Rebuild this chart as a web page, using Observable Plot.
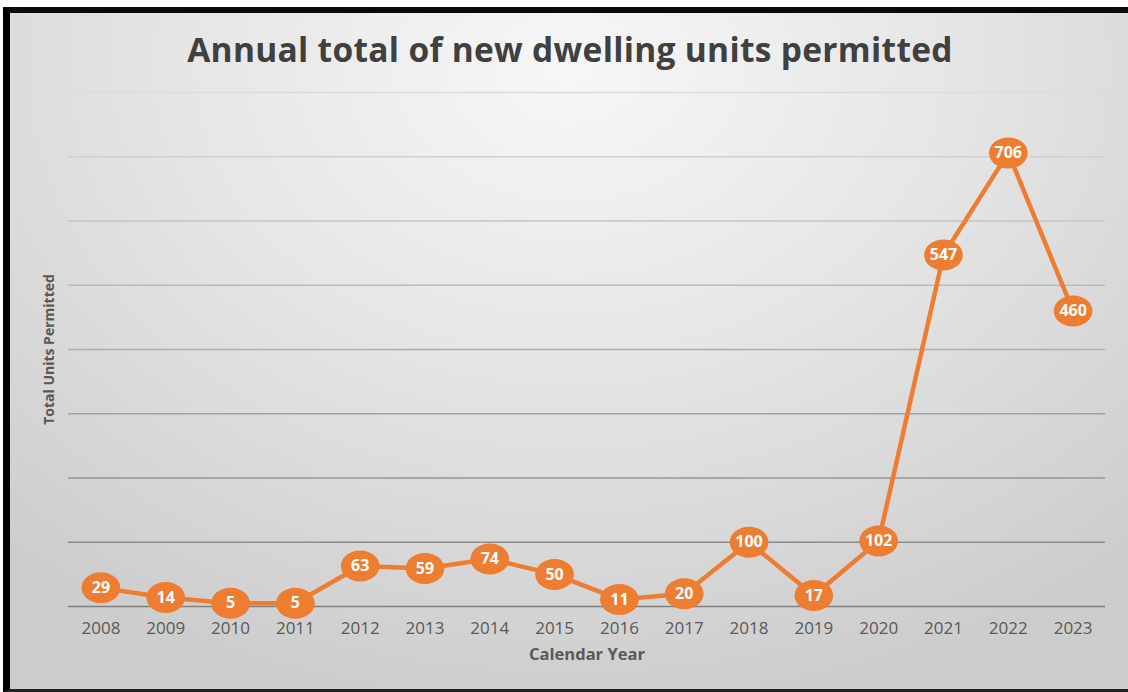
<!DOCTYPE html>
<html>
<head>
<meta charset="utf-8">
<script src="https://cdn.jsdelivr.net/npm/d3@7"></script>
<script src="https://cdn.jsdelivr.net/npm/@observablehq/plot@0.6"></script>
<style>
  html, body { margin: 0; padding: 0; background: #ffffff; width: 1128px; height: 692px; overflow: hidden; }
  #frame {
    position: absolute; left: 3px; top: 7px; width: 1125px; height: 685px;
    box-sizing: border-box;
    border-left: 7px solid #000; border-top: 6px solid #0a0a0a; border-bottom: 3px solid #222;
    background: radial-gradient(ellipse 75% 95% at 50% 8%, #f7f7f7 0%, #e6e6e6 45%, #cdcdcd 100%);
  }
  #title {
    position: absolute; left: 0; top: 26px; width: 1140px; text-align: center;
    font-family: "Open Sans", sans-serif; font-weight: 700; font-size: 33.5px; color: #404040;
    letter-spacing: 0.3px;
  }
  #chart { position: absolute; left: 0; top: 0; }
</style>
</head>
<body>
<div id="frame"></div>
<div id="title">Annual total of new dwelling units permitted</div>
<div id="chart"></div>
<script>
const years = ["2008","2009","2010","2011","2012","2013","2014","2015","2016","2017","2018","2019","2020","2021","2022","2023"];
const units = [29, 14, 5, 5, 63, 59, 74, 50, 11, 20, 100, 17, 102, 547, 706, 460];
const gridValues = [100, 200, 300, 400, 500, 600, 700, 800];

const data = years.map((y, i) => ({year: y, value: units[i]}));

// ellipse symbol for data-label markers
const ellipse = {
  draw(ctx, size) {
    const r = Math.sqrt(size / Math.PI);
    const rx = r * 1.25, ry = r, k = 0.5523;
    ctx.moveTo(rx, 0);
    ctx.bezierCurveTo(rx, ry * k, rx * k, ry, 0, ry);
    ctx.bezierCurveTo(-rx * k, ry, -rx, ry * k, -rx, 0);
    ctx.bezierCurveTo(-rx, -ry * k, -rx * k, -ry, 0, -ry);
    ctx.bezierCurveTo(rx * k, -ry, rx, -ry * k, rx, 0);
    ctx.closePath();
  }
};

const gridColor = d3.scaleLinear().domain([0, 800]).range(["#7f7f7f", "#dcdcdc"]);

const chart = Plot.plot({
  width: 1128,
  height: 692,
  marginLeft: 68,
  marginRight: 23,
  marginTop: 92,
  marginBottom: 86,
  style: { background: "transparent", fontFamily: "'Open Sans', sans-serif" },
  x: { type: "point", domain: years, padding: 0.5, round: false },
  y: { domain: [0, 800] },
  color: { type: "identity" },
  marks: [
    Plot.ruleY(gridValues, { y: d => d, stroke: d => gridColor(d), strokeWidth: 1.3 }),
    Plot.ruleY([0], { stroke: "#7f7f7f", strokeWidth: 1.3 }),
    Plot.axisX({
      tickSize: 0, tickPadding: 15, fontSize: 17, color: "#595959",
      label: "Calendar Year", labelAnchor: "center", labelArrow: "none", labelOffset: 53
    }),
    Plot.axisY({
      tickSize: 0, tickFormat: () => "", ticks: gridValues,
      label: "Total Units Permitted", labelAnchor: "center", labelArrow: "none", labelOffset: 24
    }),
    Plot.line(data, { x: "year", y: "value", stroke: "#ED7D31", strokeWidth: 4.5 }),
    Plot.dot(data, { x: "year", y: "value", r: 15.5, symbol: ellipse, fill: "#ED7D31", stroke: "none" }),
    Plot.text(data, { x: "year", y: "value", text: d => String(d.value), fill: "#ffffff",
      fontWeight: "bold", fontSize: 16 })
  ]
});

// style axis labels
d3.select(chart).selectAll("g[aria-label='x-axis label'] text, g[aria-label='y-axis label'] text")
  .attr("font-weight", "bold").attr("fill", "#595959");
d3.select(chart).select("g[aria-label='y-axis label'] text").attr("font-size", 14);
d3.select(chart).select("g[aria-label='x-axis label'] text").attr("font-size", 16.5);
d3.select(chart).selectAll("g[aria-label='x-axis tick label'] text").attr("font-weight", 500);

document.getElementById("chart").appendChild(chart);
</script>
</body>
</html>
